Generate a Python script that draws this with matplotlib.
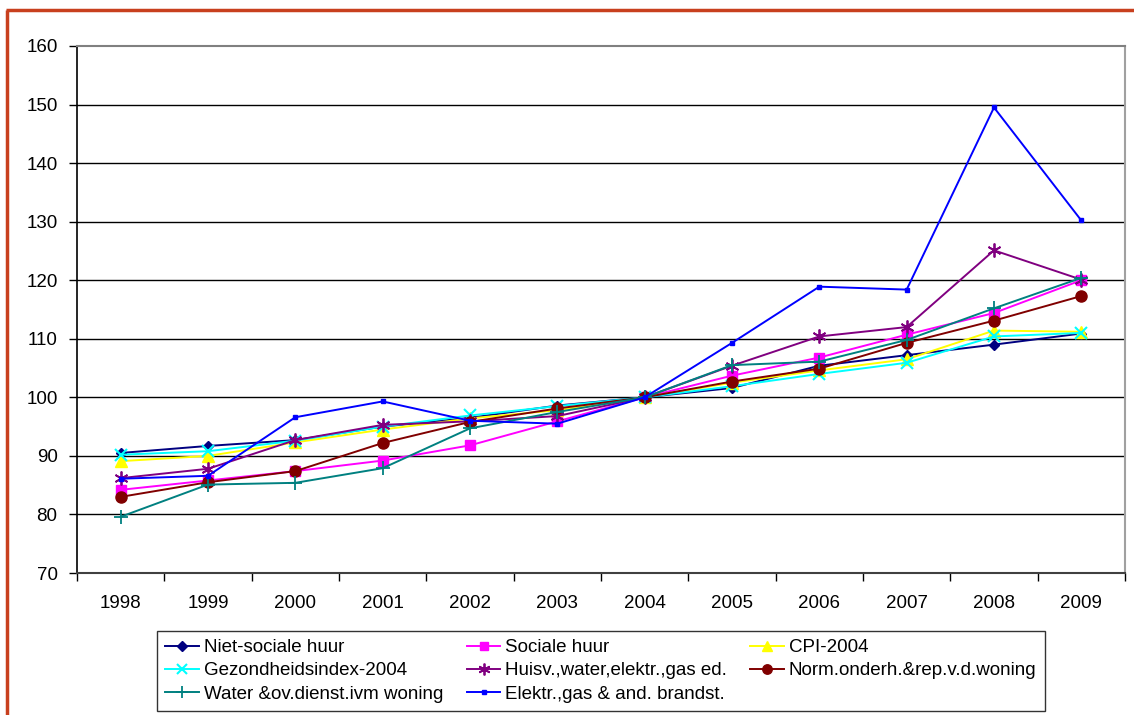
import matplotlib
matplotlib.use("Agg")
import matplotlib.pyplot as plt
from matplotlib.lines import Line2D
import numpy as np

plt.rcParams['font.family'] = ['Liberation Sans', 'DejaVu Sans']

years = ["1998", "1999", "2000", "2001", "2002", "2003", "2004",
         "2005", "2006", "2007", "2008", "2009"]

niet_sociale_huur = [90.5, 91.7, 92.7, 95.0, 96.5, 98.6, 100, 101.6, 105.4, 107.2, 109.0, 110.9]
sociale_huur = [84.2, 85.8, 87.4, 89.2, 91.8, 95.9, 100, 103.7, 106.8, 110.7, 114.4, 120.0]
cpi_2004 = [89.1, 90.0, 92.3, 94.5, 96.4, 97.8, 100, 102.5, 104.6, 106.5, 111.4, 111.2]
gezondheidsindex = [90.2, 90.8, 92.6, 95.0, 96.9, 98.5, 100, 101.9, 104.0, 105.9, 110.4, 111.0]
huisv_water = [86.2, 87.8, 92.7, 95.3, 95.9, 96.8, 100, 105.4, 110.4, 112.0, 125.1, 120.1]
norm_onderh = [83.0, 85.5, 87.4, 92.2, 95.8, 98.1, 100, 102.7, 104.9, 109.3, 113.1, 117.3]
water_ov = [79.6, 85.1, 85.4, 87.9, 94.7, 97.5, 100, 105.5, 106.1, 109.8, 115.2, 120.4]
elektr_gas = [86.1, 86.6, 96.6, 99.3, 96.0, 95.5, 100, 109.3, 118.9, 118.4, 149.5, 130.2]

labels = ["Niet-sociale huur", "Sociale huur", "CPI-2004", "Gezondheidsindex-2004",
          "Huisv.,water,elektr.,gas ed.", "Norm.onderh.&rep.v.d.woning",
          "Water &ov.dienst.ivm woning", "Elektr.,gas & and. brandst."]
y_ticks = [70, 80, 90, 100, 110, 120, 130, 140, 150, 160]

series = [niet_sociale_huur, sociale_huur, cpi_2004, gezondheidsindex,
          huisv_water, norm_onderh, water_ov, elektr_gas]
styles = [
    dict(color="#000080", marker="D", ms=5.5, mew=1),
    dict(color="#FF00FF", marker="s", ms=7, mew=1),
    dict(color="#FFFF00", marker="^", ms=8, mew=1),
    dict(color="#00FFFF", marker="x", ms=8, mew=1.5),
    dict(color="#800080", marker=(6, 2, 0), ms=10, mew=1.3),
    dict(color="#800000", marker="o", ms=8, mew=1),
    dict(color="#008080", marker="+", ms=10, mew=1.3),
    dict(color="#0000FF", marker="s", ms=3, mew=1),
]

fig = plt.figure(figsize=(11.34, 7.15), dpi=100)
ax = fig.add_axes([77/1134, 1-573/715, (1125-77)/1134, (573-46)/715])

x = np.arange(len(years))
handles = []
for vals, st in zip(series, styles):
    h, = ax.plot(x, vals, color=st["color"], lw=1.4, marker=st["marker"],
                 ms=st["ms"], mew=st["mew"], mfc=st["color"], mec=st["color"],
                 clip_on=False, zorder=3)
    handles.append(h)

ax.set_xlim(-0.5, len(years)-0.5)
ax.set_ylim(70, 160)
ax.set_yticks(y_ticks)
ax.set_yticklabels([str(v) for v in y_ticks], fontsize=13.5)
ax.set_xticks(x)
ax.set_xticklabels(years, fontsize=13.5)
ax.set_xticks(np.arange(-0.5, len(years)), minor=True)
ax.tick_params(axis='x', which='major', length=0, pad=16)
ax.tick_params(axis='x', which='minor', length=6, width=1, color="#000000", direction='out')
ax.tick_params(axis='y', length=6, width=1, direction='out', pad=8)

for v in y_ticks[1:-1]:
    ax.axhline(v, color="#000000", lw=1.0, zorder=1)

ax.spines['left'].set_color("#000000")
ax.spines['left'].set_linewidth(1.2)
ax.spines['bottom'].set_color("#404040")
ax.spines['bottom'].set_linewidth(1.5)
ax.spines['top'].set_color("#808080")
ax.spines['top'].set_linewidth(1.5)
ax.spines['right'].set_color("#A0A0A0")
ax.spines['right'].set_linewidth(1.5)

order = [0, 3, 6, 1, 4, 7, 2, 5]
leg = fig.legend([handles[i] for i in order], [labels[i] for i in order],
                 ncol=3, loc='lower left',
                 bbox_to_anchor=(157/1134, 1-711/715),
                 fontsize=13.5, frameon=True, fancybox=False,
                 edgecolor="#000000", handlelength=1.8, handletextpad=0.25,
                 borderpad=0.45, labelspacing=0.32, columnspacing=1.25,
                 borderaxespad=0)
leg.get_frame().set_linewidth(1.0)
for lh in leg.legend_handles:
    lh.set_markersize(lh.get_markersize() * 0.85)

# red-orange frame of the chart object
border = "#C8401E"
fig.add_artist(Line2D([6/1134, 1], [1-10/715, 1-10/715], color=border, lw=2.5,
                      transform=fig.transFigure, solid_capstyle='butt'))
fig.add_artist(Line2D([7/1134, 7/1134], [1-10/715, 0], color=border, lw=2.5,
                      transform=fig.transFigure, solid_capstyle='butt'))

# title, almost entirely above the visible area (only descenders show)
fig.text(970/1134, 1 + 6/715, "Woonlastenontwikkeling (2004 = 100)", ha='right',
         va='baseline', fontsize=16, fontweight='bold', color=border)

fig.savefig("out.png", dpi=100)
